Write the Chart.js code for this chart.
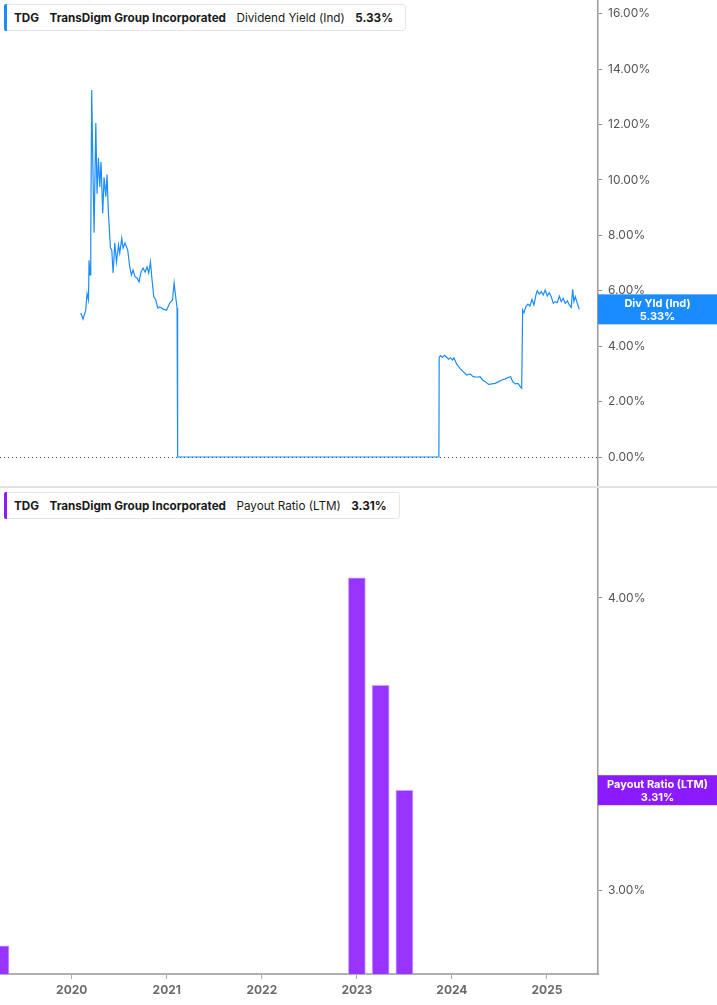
<!DOCTYPE html>
<html>
<head>
<meta charset="utf-8">
<script src="https://cdn.jsdelivr.net/npm/chart.js@4.4.1/dist/chart.umd.min.js"></script>
<style>
  body { margin: 0; background: #fff; width: 717px; height: 1005px; overflow: hidden; position: relative; font-family: Inter, "Noto Sans", sans-serif; }
  canvas { position: absolute; left: 0; }
  #topChart { top: 0; }
  #bottomChart { top: 488px; }
  .legend { position: absolute; left: 4px; height: 25px; background: #fff; border: 1px solid #e6e6e6; border-radius: 3px;
            display: flex; align-items: center; font-size: 11.7px; color: #1a1a1a; padding: 0 12px 0 9px; white-space: nowrap; }
  .legend::before { content: ""; position: absolute; left: -1px; top: -1px; bottom: -1px; width: 3px; border-radius: 2px 0 0 2px; }
  .legend.blue::before { background: #1a8cff; }
  .legend.purple::before { background: #8c1aff; }
  .legend span { margin-right: 10.5px; }
  .legend span:last-child { margin-right: 0; }
  .b { font-weight: 700; }
  .sep { position: absolute; left: 0; top: 486px; width: 717px; height: 2px; background: #e2e2e2; }
</style>
</head>
<body>
<canvas id="topChart" width="717" height="488"></canvas>
<div class="sep"></div>
<canvas id="bottomChart" width="717" height="517"></canvas>
<div class="legend blue" style="top:4px;">
  <span class="b">TDG</span><span class="b">TransDigm Group Incorporated</span><span>Dividend Yield (Ind)</span><span class="b">5.33%</span>
</div>
<div class="legend purple" style="top:492px;">
  <span class="b">TDG</span><span class="b">TransDigm Group Incorporated</span><span>Payout Ratio (LTM)</span><span class="b">3.31%</span>
</div>
<script>
// shared time range (decimal years)
const xMin = 2019.245;
const xMax = 2025.537;
const yearTicks = [2020, 2021, 2022, 2023, 2024, 2025];

// Dividend Yield (Ind), %
const divYears = [
  2020.095, 2020.119, 2020.147, 2020.161, 2020.176, 2020.182, 2020.193, 2020.200, 2020.210, 2020.221,
  2020.235, 2020.253, 2020.266, 2020.281, 2020.295, 2020.308, 2020.326, 2020.340, 2020.358, 2020.371,
  2020.386, 2020.407, 2020.421, 2020.435, 2020.453, 2020.470, 2020.492, 2020.505, 2020.526, 2020.540,
  2020.561, 2020.589, 2020.610, 2020.628, 2020.645, 2020.666, 2020.687, 2020.708, 2020.729, 2020.750,
  2020.771, 2020.793, 2020.810, 2020.828, 2020.842, 2020.863, 2020.884, 2020.905, 2020.926, 2020.961,
  2020.997, 2021.031, 2021.060, 2021.077, 2021.095, 2021.108, 2021.113, 2021.115,
  2023.863, 2023.866, 2023.881, 2023.902, 2023.923, 2023.944, 2023.965, 2023.986, 2024.007, 2024.021,
  2024.049, 2024.084, 2024.119, 2024.155, 2024.189, 2024.224, 2024.260, 2024.295, 2024.323, 2024.351,
  2024.386, 2024.421, 2024.456, 2024.492, 2024.526, 2024.561, 2024.597, 2024.618, 2024.639, 2024.666,
  2024.695, 2024.723, 2024.734, 2024.744, 2024.758, 2024.779, 2024.800, 2024.821, 2024.842, 2024.863,
  2024.884, 2024.898, 2024.919, 2024.940, 2024.961, 2024.982, 2025.003, 2025.024, 2025.045, 2025.066,
  2025.087, 2025.108, 2025.130, 2025.150, 2025.171, 2025.192, 2025.214, 2025.235, 2025.256, 2025.270,
  2025.284, 2025.298, 2025.319, 2025.340
];
const divValues = [
  5.20, 4.98, 5.30, 5.90, 5.67, 7.10, 6.57, 7.94, 13.25, 10.70,
  8.10, 12.06, 9.50, 10.80, 9.75, 10.65, 8.80, 10.10, 9.40, 10.20,
  8.80, 7.55, 7.47, 6.64, 7.73, 7.04, 7.65, 7.36, 7.90, 7.55,
  7.73, 7.47, 6.86, 6.57, 6.75, 6.50, 6.46, 6.32, 6.68, 6.82,
  6.68, 6.86, 6.64, 7.04, 6.50, 5.78, 5.67, 5.38, 5.42, 5.34,
  5.30, 5.56, 5.67, 6.28, 5.74, 5.38, 5.20, 0.00,
  0.00, 3.60, 3.65, 3.60, 3.67, 3.60, 3.53, 3.58, 3.50, 3.58,
  3.36, 3.20, 3.08, 2.96, 3.00, 2.90, 2.88, 2.90, 2.78, 2.72,
  2.62, 2.64, 2.66, 2.72, 2.78, 2.82, 2.88, 2.90, 2.72, 2.64,
  2.66, 2.52, 2.48, 5.31, 5.21, 5.43, 5.52, 5.45, 5.69, 5.49,
  5.85, 6.00, 5.88, 5.97, 5.85, 6.03, 5.81, 5.93, 5.79, 5.55,
  5.61, 5.57, 5.81, 5.61, 5.73, 5.55, 5.64, 5.49, 5.40, 6.05,
  5.61, 5.79, 5.55, 5.33
];
const divTicks = [0, 2, 4, 6, 8, 10, 12, 14, 16];

// Payout Ratio (LTM), % (quarterly)
const payoutYears = [2019.25, 2023.0, 2023.25, 2023.5];
const payoutValues = [2.84, 4.08, 3.67, 3.31];
const payoutTicks = [3, 4];

const blue = '#1a8cff';
const purple = '#8c1aff';

// draws the coloured last-value tag on the right axis
const lastValueTag = {
  id: 'lastValueTag',
  afterDraw(chart, args, opts) {
    const ds = chart.data.datasets[0].data;
    const last = ds[ds.length - 1].y;
    const y = chart.scales.y.getPixelForValue(last);
    const ctx = chart.ctx;
    const left = chart.chartArea.right;
    ctx.save();
    ctx.fillStyle = opts.color;
    ctx.fillRect(left, y - 15, chart.width - left, 30);
    ctx.fillStyle = '#fff';
    ctx.font = 'bold 11px Inter, "Noto Sans", sans-serif';
    ctx.textAlign = 'center';
    ctx.textBaseline = 'middle';
    const cx = left + (chart.width - left) / 2;
    ctx.fillText(opts.label, cx, y - 6);
    ctx.fillText(last.toFixed(2) + '%', cx, y + 7);
    ctx.restore();
  }
};

// dotted zero line
const zeroLine = {
  id: 'zeroLine',
  beforeDatasetsDraw(chart) {
    const y = chart.scales.y.getPixelForValue(0);
    const ctx = chart.ctx;
    ctx.save();
    ctx.strokeStyle = '#444';
    ctx.lineWidth = 1;
    ctx.setLineDash([1, 3]);
    ctx.beginPath();
    ctx.moveTo(chart.chartArea.left, y + 0.5);
    ctx.lineTo(chart.chartArea.right, y + 0.5);
    ctx.stroke();
    ctx.restore();
  }
};

const axisFont = { family: 'Inter, "Noto Sans", sans-serif', size: 12 };

function noPad(s) {
  s.paddingTop = 0;
  s.paddingBottom = 0;
  s.paddingLeft = 0;
  s.paddingRight = 0;
}

function rightAxis(extra) {
  return Object.assign({
    position: 'right',
    afterFit: s => { s.width = 119; noPad(s); },
    ticks: {
      color: '#555',
      font: axisFont,
      padding: 6,
      callback: v => Number(v).toFixed(2) + '%'
    },
    grid: { drawOnChartArea: false, tickLength: 4, color: '#888' },
    border: { display: true, color: '#9a9a9a', width: 1.5 }
  }, extra);
}

new Chart(document.getElementById('topChart'), {
  type: 'line',
  data: {
    datasets: [{
      data: divYears.map((x, i) => ({ x: x, y: divValues[i] })),
      borderColor: blue,
      borderWidth: 1.2,
      pointRadius: 0,
      tension: 0
    }]
  },
  options: {
    responsive: false,
    animation: false,
    devicePixelRatio: 1,
    layout: { padding: { top: 0, bottom: 1, left: 0, right: 0 } },
    plugins: {
      legend: { display: false },
      tooltip: { enabled: false },
      lastValueTag: { color: blue, label: 'Div Yld (Ind)' }
    },
    scales: {
      x: { type: 'linear', min: xMin, max: xMax, display: false },
      y: rightAxis({
        min: -1.083,
        max: 16.498,
        afterBuildTicks: s => { s.ticks = divTicks.map(v => ({ value: v })); }
      })
    }
  },
  plugins: [zeroLine, lastValueTag]
});

new Chart(document.getElementById('bottomChart'), {
  type: 'bar',
  data: {
    datasets: [{
      data: payoutYears.map((x, i) => ({ x: x, y: payoutValues[i] })),
      backgroundColor: '#9933ff',
      borderColor: '#c9a0ff',
      borderWidth: 1,
      barThickness: 17
    }]
  },
  options: {
    responsive: false,
    animation: false,
    devicePixelRatio: 1,
    layout: { padding: { top: 1, bottom: 0, left: 0, right: 0 } },
    plugins: {
      legend: { display: false },
      tooltip: { enabled: false },
      lastValueTag: { color: purple, label: 'Payout Ratio (LTM)' }
    },
    scales: {
      x: {
        type: 'linear',
        min: xMin,
        max: xMax,
        offset: false,
        afterBuildTicks: s => { s.ticks = yearTicks.map(v => ({ value: v })); },
        afterFit: s => { s.height = 31; noPad(s); },
        ticks: {
          color: '#6b6b6b',
          font: { family: axisFont.family, size: 12, weight: 'bold' },
          padding: 4,
          maxRotation: 0,
          callback: v => String(v)
        },
        grid: { offset: false, drawOnChartArea: false, tickLength: 5, color: '#aaa' },
        border: { display: true, color: '#b0b0b0', width: 2 }
      },
      y: rightAxis({
        type: 'logarithmic',
        min: 2.762,
        max: 4.453,
        afterBuildTicks: s => { s.ticks = payoutTicks.map(v => ({ value: v })); }
      })
    }
  },
  plugins: [lastValueTag]
});
</script>
</body>
</html>
